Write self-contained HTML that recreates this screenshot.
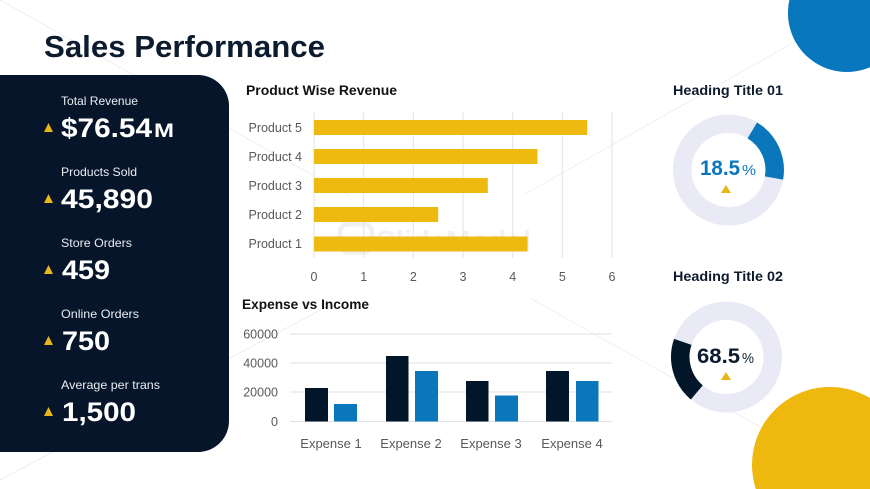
<!DOCTYPE html>
<html><head><meta charset="utf-8"><style>
html,body{margin:0;padding:0;background:#fff;width:870px;height:489px;overflow:hidden;}
svg{display:block;font-family:"Liberation Sans",Arial,sans-serif;overflow:hidden;}
</style></head><body>
<svg width="870" height="489" viewBox="0 0 870 489" xmlns="http://www.w3.org/2000/svg">
<rect width="870" height="489" fill="#ffffff"/>
<!-- faint background lines -->
<g stroke="#efefef" stroke-width="1">
<line x1="0" y1="0" x2="350" y2="196"/>
<line x1="869" y1="0" x2="525" y2="194"/>
<line x1="0" y1="480" x2="330" y2="305"/>
<line x1="869" y1="488" x2="530" y2="298"/>
</g>
<!-- watermark -->
<g fill="#f1f1f1">
<rect x="340" y="224" width="32" height="28" rx="8" fill="none" stroke="#f0f0f0" stroke-width="5"/>
<text x="376" y="250" font-size="28" font-weight="bold" textLength="155" lengthAdjust="spacingAndGlyphs">SlideModel</text>
</g>
<!-- decorative circles (clipped to frame) -->
<path d="M789.4,0 A59,59 0 0 0 870,67.3 L870,0 Z" fill="#0877bd"/>
<path d="M755.8,489 A78,78 0 0 1 870,398 L870,489 Z" fill="#efb80f"/>
<!-- title -->
<text x="44" y="57" font-size="31" font-weight="bold" fill="#0d1b2e" textLength="281" lengthAdjust="spacingAndGlyphs">Sales Performance</text>
<!-- left panel -->
<path d="M0,75 H198 A31,31 0 0 1 229,106 V421 A31,31 0 0 1 198,452 H0 Z" fill="#061529"/>
<g fill="#e9edf3" font-size="12">
<text x="61" y="105" textLength="77" lengthAdjust="spacingAndGlyphs">Total Revenue</text>
<text x="61" y="176" textLength="76" lengthAdjust="spacingAndGlyphs">Products Sold</text>
<text x="61" y="247" textLength="71" lengthAdjust="spacingAndGlyphs">Store Orders</text>
<text x="61" y="318" textLength="78" lengthAdjust="spacingAndGlyphs">Online Orders</text>
<text x="61" y="389" textLength="99" lengthAdjust="spacingAndGlyphs">Average per trans</text>
</g>
<g fill="#ffffff" font-weight="bold" font-size="27">
<text x="61" y="137" textLength="91" lengthAdjust="spacingAndGlyphs">$76.54</text>
<text x="154" y="137" font-size="19" textLength="20" lengthAdjust="spacingAndGlyphs">M</text>
<text x="61" y="208" textLength="92" lengthAdjust="spacingAndGlyphs">45,890</text>
<text x="62" y="279" textLength="48" lengthAdjust="spacingAndGlyphs">459</text>
<text x="62" y="350" textLength="48" lengthAdjust="spacingAndGlyphs">750</text>
<text x="62" y="421" textLength="74" lengthAdjust="spacingAndGlyphs">1,500</text>
</g>
<g fill="#e8b619">
<polygon points="44,132 53,132 48.5,123"/>
<polygon points="44,203 53,203 48.5,194"/>
<polygon points="44,274 53,274 48.5,265"/>
<polygon points="44,345 53,345 48.5,336"/>
<polygon points="44,416 53,416 48.5,407"/>
</g>
<!-- Product Wise Revenue -->
<text x="246" y="95" font-size="13.5" font-weight="bold" fill="#111" textLength="151" lengthAdjust="spacingAndGlyphs">Product Wise Revenue</text>
<g stroke="#e2e2e2" stroke-width="1">
<line x1="314" y1="112" x2="314" y2="258"/>
<line x1="363.7" y1="112" x2="363.7" y2="258"/>
<line x1="413.3" y1="112" x2="413.3" y2="258"/>
<line x1="463" y1="112" x2="463" y2="258"/>
<line x1="512.7" y1="112" x2="512.7" y2="258"/>
<line x1="562.3" y1="112" x2="562.3" y2="258"/>
<line x1="612" y1="112" x2="612" y2="258"/>
</g>
<g fill="#eeba10">
<rect x="314" y="120" width="273.2" height="15"/>
<rect x="314" y="149" width="223.5" height="15"/>
<rect x="314" y="178" width="173.8" height="15"/>
<rect x="314" y="207" width="124.2" height="15"/>
<rect x="314" y="236.5" width="213.6" height="15"/>
</g>
<g fill="#595959" font-size="12.5" text-anchor="end">
<text x="302" y="132">Product 5</text>
<text x="302" y="161">Product 4</text>
<text x="302" y="190">Product 3</text>
<text x="302" y="219">Product 2</text>
<text x="302" y="248">Product 1</text>
</g>
<g fill="#595959" font-size="12.5" text-anchor="middle">
<text x="314" y="281">0</text>
<text x="363.7" y="281">1</text>
<text x="413.3" y="281">2</text>
<text x="463" y="281">3</text>
<text x="512.7" y="281">4</text>
<text x="562.3" y="281">5</text>
<text x="612" y="281">6</text>
</g>
<!-- Expense vs Income -->
<text x="242" y="309" font-size="13.5" font-weight="bold" fill="#111" textLength="127" lengthAdjust="spacingAndGlyphs">Expense vs Income</text>
<g stroke="#e2e2e2" stroke-width="1">
<line x1="290" y1="334" x2="612" y2="334"/>
<line x1="290" y1="363" x2="612" y2="363"/>
<line x1="290" y1="392" x2="612" y2="392"/>
<line x1="290" y1="421.5" x2="612" y2="421.5"/>
</g>
<g fill="#595959" font-size="12.5" text-anchor="end">
<text x="278" y="338.5">60000</text>
<text x="278" y="367.5">40000</text>
<text x="278" y="396.5">20000</text>
<text x="278" y="426">0</text>
</g>
<g fill="#021629">
<rect x="305" y="388" width="23" height="33.5"/>
<rect x="386" y="356" width="22.5" height="65.5"/>
<rect x="466" y="381" width="22.5" height="40.5"/>
<rect x="546" y="371" width="23" height="50.5"/>
</g>
<g fill="#0a77bd">
<rect x="334" y="404" width="23" height="17.5"/>
<rect x="415" y="371" width="23" height="50.5"/>
<rect x="495" y="395.5" width="23" height="26"/>
<rect x="576" y="381" width="22.5" height="40.5"/>
</g>
<g fill="#595959" font-size="13" text-anchor="middle">
<text x="331" y="448">Expense 1</text>
<text x="411" y="448">Expense 2</text>
<text x="491" y="448">Expense 3</text>
<text x="572" y="448">Expense 4</text>
</g>
<!-- Heading Title 01 donut -->
<text x="728" y="95" font-size="14" font-weight="bold" fill="#0d1b2e" text-anchor="middle" textLength="110" lengthAdjust="spacingAndGlyphs">Heading Title 01</text>
<circle cx="728.5" cy="170" r="46.25" fill="none" stroke="#e9eaf6" stroke-width="18.5"/>
<path d="M752.3,130.4 A46.25,46.25 0 0 1 774,178" fill="none" stroke="#0a77bd" stroke-width="18.5"/>
<text x="700" y="175" font-size="21" font-weight="bold" fill="#0a77bd" textLength="40" lengthAdjust="spacingAndGlyphs">18.5</text>
<text x="742" y="175" font-size="15" fill="#0a77bd" textLength="14" lengthAdjust="spacingAndGlyphs">%</text>
<polygon points="721,193 731,193 726,185" fill="#e8b619"/>
<!-- Heading Title 02 donut -->
<text x="728" y="281" font-size="14" font-weight="bold" fill="#0d1b2e" text-anchor="middle" textLength="110" lengthAdjust="spacingAndGlyphs">Heading Title 02</text>
<circle cx="726.5" cy="357" r="46.25" fill="none" stroke="#e9eaf6" stroke-width="18.5"/>
<path d="M696.8,392.4 A46.25,46.25 0 0 1 682.8,341.9" fill="none" stroke="#021629" stroke-width="18.5"/>
<text x="697" y="363" font-size="21" font-weight="bold" fill="#0d1b2e" textLength="43" lengthAdjust="spacingAndGlyphs">68.5</text>
<text x="742" y="363" font-size="15" fill="#0d1b2e" textLength="12" lengthAdjust="spacingAndGlyphs">%</text>
<polygon points="721,380 731,380 726,372" fill="#e8b619"/>
</svg>
</body></html>
